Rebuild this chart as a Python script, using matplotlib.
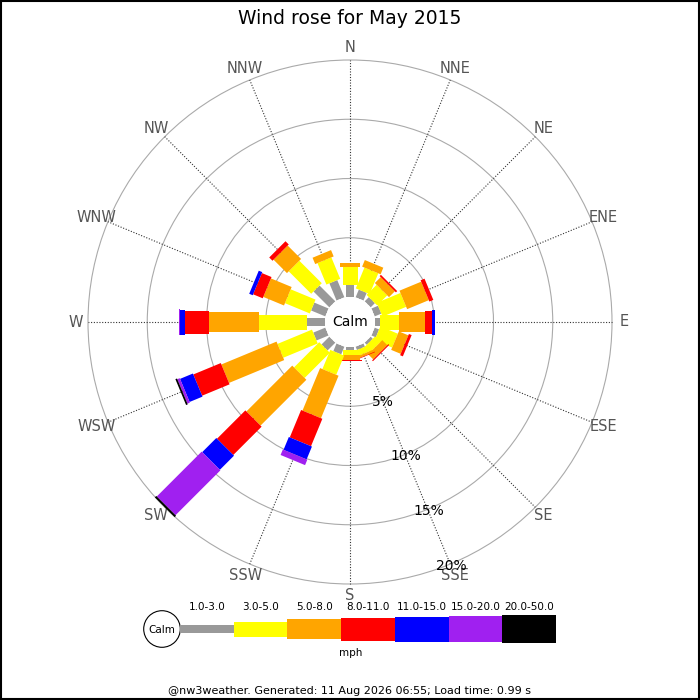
import numpy as np
import matplotlib
matplotlib.use('Agg')
import matplotlib.pyplot as plt
from matplotlib.patches import Polygon, Circle, Rectangle

# ---- data: % of time per direction and speed band ----
directions = ['N', 'NNE', 'NE', 'ENE', 'E', 'ESE', 'SE', 'SSE',
              'S', 'SSW', 'SW', 'WSW', 'W', 'WNW', 'NW', 'NNW']
bands = ['1.0-3.0', '3.0-5.0', '5.0-8.0', '8.0-11.0', '11.0-15.0', '15.0-20.0', '20.0-50.0']
band_colors = ['#999999', '#ffff00', '#ffa500', '#ff0000', '#0000ff', '#a020f0', '#000000']

pct_1_3 = [1.00, 0.70, 0.50, 0.60, 0.45, 0.40, 0.25, 0.30, 0.25, 0.70, 0.93, 1.10, 1.54, 1.30, 1.89, 1.57]
pct_3_5 = [1.50, 1.90, 1.20, 2.16, 1.55, 1.60, 0.65, 0.50, 0.45, 1.75, 3.01, 3.15, 4.00, 2.27, 2.68, 1.96]
pct_5_8 = [0.35, 0.60, 0.70, 1.98, 2.25, 0.87, 0.60, 0.20, 0.40, 3.88, 5.47, 5.04, 4.22, 1.89, 1.60, 0.58]
pct_8_11 = [0.00, 0.00, 0.15, 0.36, 0.58, 0.25, 0.10, 0.05, 0.08, 2.50, 3.38, 2.51, 2.04, 0.88, 0.39, 0.00]
pct_11_15 = [0.00, 0.00, 0.00, 0.00, 0.20, 0.00, 0.00, 0.00, 0.00, 1.17, 1.69, 1.18, 0.40, 0.32, 0.00, 0.00]
pct_15_20 = [0.00, 0.00, 0.00, 0.00, 0.00, 0.00, 0.00, 0.00, 0.00, 0.50, 5.35, 0.22, 0.10, 0.00, 0.00, 0.00]
pct_20_50 = [0.00, 0.00, 0.00, 0.00, 0.00, 0.00, 0.00, 0.00, 0.00, 0.00, 0.17, 0.15, 0.00, 0.00, 0.00, 0.00]
ring_pcts = [5, 10, 15, 20]

# ---- layout (pixel space of the 700x700 image) ----
CX, CY = 350, 322          # rose centre
R0 = 25                    # calm circle radius
SCALE = 11.85              # px per percent
BAR_W = [8.5, 15, 20, 23, 25, 26.5, 28]
LABEL_R = 274


def rad(p):
    return R0 + p * SCALE


def unit(bearing):
    t = np.deg2rad(bearing)
    return np.array([np.sin(t), -np.cos(t)]), np.array([np.cos(t), np.sin(t)])


def bar(ax, bearing, r0, r1, w, color):
    u, n = unit(bearing)
    c0 = np.array([CX, CY]) + u * r0
    c1 = np.array([CX, CY]) + u * r1
    pts = [c0 + n * w / 2, c1 + n * w / 2, c1 - n * w / 2, c0 - n * w / 2]
    ax.add_patch(Polygon(pts, closed=True, facecolor=color, edgecolor='none', zorder=3))


fig = plt.figure(figsize=(7, 7), dpi=100)
ax = fig.add_axes([0, 0, 1, 1])
ax.set_xlim(0, 700); ax.set_ylim(700, 0)
ax.set_aspect('equal'); ax.axis('off')

# rings + spokes
for p in ring_pcts:
    ax.add_patch(Circle((CX, CY), rad(p), fill=False, edgecolor='#aaaaaa', lw=0.8, zorder=1))
for i, d in enumerate(directions):
    b = i * 22.5
    u, _ = unit(b)
    p0 = np.array([CX, CY]) + u * R0
    p1 = np.array([CX, CY]) + u * rad(ring_pcts[-1])
    ax.plot([p0[0], p1[0]], [p0[1], p1[1]], ls=(0, (1, 1.5)), color='#333333', lw=0.8, zorder=2)
    lp = np.array([CX, CY]) + u * LABEL_R
    ax.text(lp[0], lp[1], d, ha='center', va='center', fontsize=10.5, color='#555555')

# stacked bars
series = [pct_1_3, pct_3_5, pct_5_8, pct_8_11, pct_11_15, pct_15_20, pct_20_50]
for i in range(len(directions)):
    b = i * 22.5
    cum = 0.0
    for k, s in enumerate(series):
        v = s[i]
        if v <= 0:
            continue
        bar(ax, b, rad(cum), rad(cum + v), BAR_W[k], band_colors[k])
        cum += v

# calm circle
ax.add_patch(Circle((CX, CY), R0, facecolor='white', edgecolor='none', zorder=4))
ax.text(CX, CY, 'Calm', ha='center', va='center', fontsize=10, zorder=5)

# range labels along SSE
u, _ = unit(157.5)
for p in ring_pcts:
    lp = np.array([CX, CY]) + u * (rad(p) + 2)
    ax.text(lp[0], lp[1], f'{p}%', ha='center', va='center', fontsize=10, zorder=5)

ax.text(350, 18, 'Wind rose for May 2015', ha='center', va='center', fontsize=13.5)

# legend
LX0, LY, SEG = 180, 629, 53.7
ax.add_patch(Circle((162, LY), 18.3, facecolor='white', edgecolor='black', lw=0.8))
ax.text(162, LY + 1, 'Calm', ha='center', va='center', fontsize=7.5)
for k, lab in enumerate(bands):
    x0 = LX0 + k * SEG
    ax.add_patch(Rectangle((x0, LY - BAR_W[k] / 2), SEG, BAR_W[k],
                           facecolor=band_colors[k], edgecolor='none'))
    ax.text(x0 + SEG / 2, 606.5, lab, ha='center', va='center', fontsize=7.5)
ax.text(351, 653, 'mph', ha='center', va='center', fontsize=7.5)

ax.text(349, 691, '@nw3weather. Generated: 11 Aug 2026 06:55; Load time: 0.99 s',
        ha='center', va='center', fontsize=8)

# outer frame
ax.add_patch(Rectangle((0.5, 0.5), 698.5, 698.5, fill=False, edgecolor='black', lw=1.5))

fig.savefig('out.png', dpi=100)
